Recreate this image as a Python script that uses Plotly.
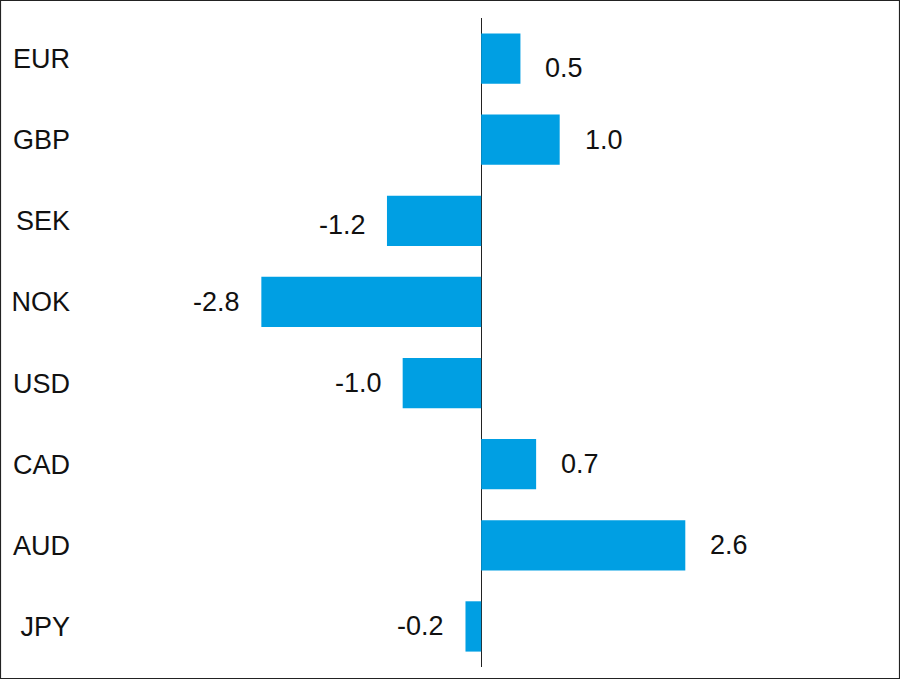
import plotly.graph_objects as go

categories = ["EUR", "GBP", "SEK", "NOK", "USD", "CAD", "AUD", "JPY"]
values = [0.5, 1.0, -1.2, -2.8, -1.0, 0.7, 2.6, -0.2]
labels = ["0.5", "1.0", "-1.2", "-2.8", "-1.0", "0.7", "2.6", "-0.2"]

BAR_COLOR = "#009FE3"
FONT = "Liberation Sans, Arial, sans-serif"
TXT = "#111111"

fig = go.Figure()
fig.add_trace(go.Bar(
    y=categories,
    x=values,
    orientation="h",
    marker=dict(color=BAR_COLOR, line=dict(width=0)),
    hoverinfo="x+y",
))

annotations = []
for cat, v, lab in zip(categories, values, labels):
    pos = v >= 0
    annotations.append(dict(
        x=v, y=cat, xref="x", yref="y",
        text=lab, showarrow=False,
        xanchor="left" if pos else "right",
        xshift=23 if pos else -19,
        yshift=-9 if cat == "EUR" else (-4 if cat == "SEK" else 0),
        font=dict(family=FONT, size=27, color=TXT),
    ))

fig.update_layout(
    width=900, height=681,
    margin=dict(l=80, r=20, t=18, b=14),
    paper_bgcolor="white", plot_bgcolor="white",
    showlegend=False,
    bargap=0.38,
    font=dict(family=FONT, size=27, color=TXT),
    xaxis=dict(
        range=[-5.11, 5.08],
        showgrid=False, showticklabels=False, ticks="",
        zeroline=True, zerolinecolor="#222222", zerolinewidth=1,
        showline=False, fixedrange=True,
    ),
    yaxis=dict(
        categoryorder="array", categoryarray=categories,
        autorange="reversed",
        showgrid=False, zeroline=False, showline=False, ticks="",
        ticklabelstandoff=9,
        tickfont=dict(family=FONT, size=27, color=TXT),
        fixedrange=True,
    ),
    annotations=annotations,
    shapes=[dict(
        type="rect", xref="paper", yref="paper",
        x0=-0.0994, x1=1.0244, y0=-0.0177, y1=1.0270,
        line=dict(color="#222222", width=1.2), fillcolor="rgba(0,0,0,0)",
        layer="above",
    )],
)

fig.write_html(
    "out.html",
    config={"displayModeBar": False},
    post_script="document.body.style.margin='0';document.body.style.overflow='hidden';",
)
